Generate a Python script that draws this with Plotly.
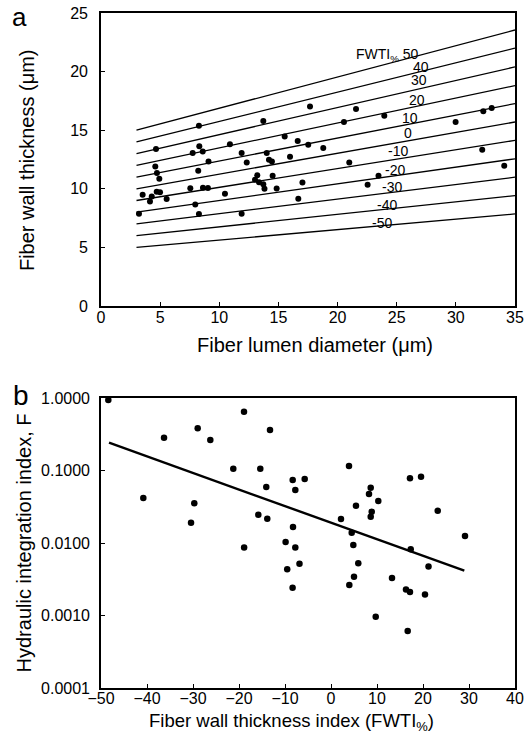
import plotly.graph_objects as go

# ── panel a: fiber lumen diameter vs wall thickness ──
lumen_diam = [8.28, 13.72, 17.67, 21.56, 23.95, 20.54, 29.98, 32.32, 33.03, 4.65,
              7.75, 8.31, 8.60, 10.90, 11.89, 15.53, 16.63, 17.52, 18.79, 14.01,
              14.20, 14.45, 15.98, 12.32, 9.09, 4.59, 4.73, 4.93, 8.22, 20.99,
              32.23, 34.09, 23.46, 22.54, 13.21, 13.02, 13.36, 13.72, 13.82, 14.51,
              14.85, 17.03, 16.68, 7.55, 8.62, 9.04, 10.48, 3.52, 4.14, 4.29,
              4.71, 4.99, 5.55, 3.21, 7.97, 8.28, 11.89]
wall_thick = [15.38, 15.79, 17.03, 16.81, 16.24, 15.70, 15.70, 16.61, 16.90, 13.39,
              13.05, 13.62, 13.19, 13.79, 13.05, 14.47, 14.08, 13.76, 13.48, 13.05,
              12.48, 12.33, 12.74, 12.25, 12.33, 11.91, 11.34, 10.85, 11.54, 12.25,
              13.33, 11.97, 11.11, 10.34, 11.15, 10.77, 10.56, 10.38, 10.00, 11.11,
              10.03, 10.54, 9.15, 10.04, 10.09, 10.06, 9.57, 9.49, 8.91, 9.34,
              9.74, 9.70, 9.12, 7.86, 8.66, 7.84, 7.86]

# FWTI% reference lines (end points at D = 3 and D = 35 µm)
fwti_levels = [50, 40, 30, 20, 10, 0, -10, -20, -30, -40, -50]
fwti_line_x = [3, 35]
fwti_line_start = [15.0, 14.0, 13.0, 12.0, 11.0, 10.0, 9.0, 8.0, 7.0, 6.0, 5.0]
fwti_line_end = [23.55, 22.0, 20.4, 18.8, 17.27, 15.7, 14.13, 12.56, 10.99, 9.42, 7.85]
fwti_label_x = [27.05, 27.04, 26.9, 26.75, 26.1, 25.98, 25.13, 24.85, 24.57, 24.15, 23.73]
fwti_label_y = [21.4, 20.4, 19.25, 17.6, 16.04, 14.76, 13.19, 11.62, 10.15, 8.63, 7.12]

# ── panel b: FWTI% vs hydraulic integration index F ──
fwti_pts = [-48.41, -18.91, -28.98, -13.26, -36.30, -26.24, -21.24, -15.37, -8.33, -5.72,
            -14.07, -7.76, -40.80, -29.72, -15.80, -13.85, -30.43, -8.26, -9.87, 3.91,
            17.17, 19.57, 8.63, 8.26, 10.28, 5.43, 8.85, 8.63, 23.20, 2.17,
            4.50, 29.13, 4.85, 17.33, -6.85, 5.93, 21.20, 5.00, 13.26, 3.98,
            16.30, 17.17, 20.43, 9.72, 16.67, -18.89, -7.76, -9.52, -8.35]
f_index = [0.938, 0.647, 0.382, 0.362, 0.283, 0.263, 0.106, 0.106, 0.0740, 0.0763,
           0.0592, 0.0538, 0.0418, 0.0353, 0.0246, 0.0216, 0.0191, 0.0166, 0.0103, 0.115,
           0.0780, 0.0821, 0.0579, 0.0474, 0.0380, 0.0327, 0.0270, 0.0231, 0.0279, 0.0214,
           0.0139, 0.0125, 0.00938, 0.00819, 0.00516, 0.00525, 0.00474, 0.00343, 0.00329, 0.00264,
           0.00228, 0.00211, 0.00195, 0.000962, 0.000611, 0.00869, 0.00869, 0.00434, 0.00241]
fit_x = [-48.26, 28.98]
fit_f = [0.2417, 0.00415]

f_tickvals = [0.0001, 0.001, 0.01, 0.1, 1]
f_ticktext = ['0.0001', '0.0010', '0.0100', '0.1000', '1.0000']

FONT = 'Liberation Sans, Arial, sans-serif'

fig = go.Figure()

for lvl, y0, y1 in zip(fwti_levels, fwti_line_start, fwti_line_end):
    fig.add_trace(go.Scatter(
        x=fwti_line_x, y=[y0, y1], mode='lines',
        line=dict(color='black', width=1.3),
        xaxis='x', yaxis='y', showlegend=False, hoverinfo='skip',
    ))

fig.add_trace(go.Scatter(
    x=lumen_diam, y=wall_thick, mode='markers',
    marker=dict(color='black', size=6),
    xaxis='x', yaxis='y', showlegend=False,
))

fig.add_trace(go.Scatter(
    x=fit_x, y=fit_f, mode='lines',
    line=dict(color='black', width=2.4),
    xaxis='x2', yaxis='y2', showlegend=False,
))
fig.add_trace(go.Scatter(
    x=fwti_pts, y=f_index, mode='markers',
    marker=dict(color='black', size=6.5),
    xaxis='x2', yaxis='y2', showlegend=False, cliponaxis=False,
))

axis_common = dict(
    showline=True, linecolor='black', linewidth=1.6, mirror=True,
    ticks='inside', ticklen=4, tickcolor='black', tickwidth=1,
    showgrid=False, zeroline=False, automargin=False,
    ticklabeloverflow='allow',
    tickfont=dict(size=16, color='black', family=FONT),
)

fig.update_layout(
    width=528, height=745,
    margin=dict(l=101, r=13, t=13, b=57),
    plot_bgcolor='white', paper_bgcolor='white',
    font=dict(family=FONT, color='black'),
    xaxis=dict(axis_common, domain=[0, 1], range=[0, 35], dtick=5, anchor='y',
               ticklabelstandoff=-4),
    yaxis=dict(axis_common, domain=[0.566, 1], range=[0, 25], dtick=5, anchor='x',
               ticklabelstandoff=8),
    xaxis2=dict(axis_common, domain=[0, 1], range=[-50, 40], dtick=10, anchor='y2',
                ticklabelstandoff=-5),
    yaxis2=dict(axis_common, domain=[0, 0.4296], type='log', range=[-4, 0],
                tickvals=f_tickvals, ticktext=f_ticktext, anchor='x2',
                ticklabelstandoff=6),
)

for lvl, lx, ly in zip(fwti_levels, fwti_label_x, fwti_label_y):
    if lvl == fwti_levels[0]:
        fig.add_annotation(x=lx, y=ly, xref='x', yref='y', text=f'FWTI<sub>%</sub> {lvl}',
                           showarrow=False, xanchor='right', yanchor='middle',
                           font=dict(size=14))
    else:
        fig.add_annotation(x=lx, y=ly, xref='x', yref='y', text=str(lvl),
                           showarrow=False, xanchor='center', yanchor='middle',
                           font=dict(size=14))

titles = [
    dict(text='Fiber lumen diameter (μm)', x=0.517, y=0.508, textangle=0, font=dict(size=20)),
    dict(text='Fiber wall thickness (μm)', x=-0.179, y=0.782, textangle=-90, font=dict(size=20)),
    dict(text='Fiber wall thickness index (FWTI<sub>%</sub>)', x=0.459, y=-0.05, textangle=0,
         font=dict(size=18.5)),
    dict(text='Hydraulic integration index, F', x=-0.187, y=0.215, textangle=-90,
         font=dict(size=20)),
]
for t in titles:
    fig.add_annotation(xref='paper', yref='paper', showarrow=False,
                       xanchor='center', yanchor='middle', **t)

fig.add_annotation(text='a', x=-0.196, y=0.994, xref='paper', yref='paper',
                   xanchor='center', yanchor='middle',
                   showarrow=False, font=dict(size=26))
fig.add_annotation(text='b', x=-0.193, y=0.434, xref='paper', yref='paper',
                   xanchor='center', yanchor='middle',
                   showarrow=False, font=dict(size=28))

# drop the default 8 px body margin so the 528x745 figure sits at the page corner
fig.write_html('out.html', config={'displayModeBar': False},
               post_script="document.body.style.margin = '0';")
